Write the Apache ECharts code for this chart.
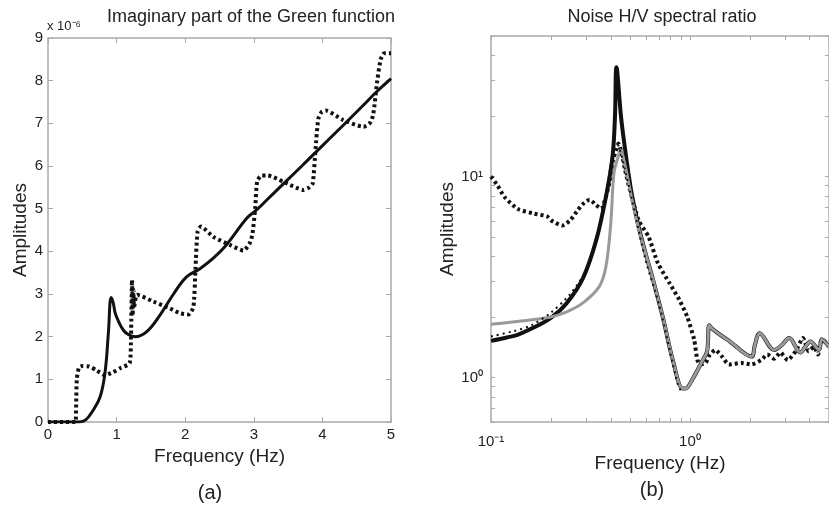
<!DOCTYPE html>
<html>
<head>
<meta charset="utf-8">
<script src="https://cdn.jsdelivr.net/npm/echarts@6/dist/echarts.min.js"></script>
<style>
  html, body { margin: 0; padding: 0; background: #fff; }
  #chart { width: 829px; height: 510px; }
</style>
</head>
<body>
<div id="chart"></div>
<script>
// (a) imaginary part of the Green function, units of 1e-6
const greenSolidFreq = [0, 0.45, 0.55, 0.66, 0.76, 0.83, 0.88, 0.92, 0.95, 0.98, 1.03, 1.1, 1.17, 1.27, 1.44, 1.63, 1.83, 2.02, 2.22, 2.41, 2.6, 2.9, 3.04, 3.2, 3.43, 3.7, 3.92, 4.3, 4.6, 4.79, 5.0];
const greenSolidAmp = [0, 0, 0.05, 0.28, 0.59, 1.14, 2.08, 2.92, 2.8, 2.55, 2.35, 2.15, 2.05, 2.0, 2.12, 2.5, 3.0, 3.4, 3.6, 3.84, 4.15, 4.78, 4.97, 5.22, 5.58, 6.0, 6.35, 6.95, 7.43, 7.74, 8.05];

const greenDotFreq = [0, 0.4, 0.41, 0.42, 0.45, 0.5, 0.6, 0.7, 0.83, 0.95, 1.05, 1.19, 1.21, 1.225, 1.235, 1.245, 1.255, 1.3, 1.54, 1.78, 1.92, 2.05, 2.12, 2.15, 2.18, 2.23, 2.41, 2.65, 2.85, 2.94, 2.98, 3.02, 3.05, 3.12, 3.2, 3.43, 3.72, 3.81, 3.86, 3.9, 3.94, 3.99, 4.05, 4.3, 4.6, 4.69, 4.74, 4.8, 4.85, 4.9, 5.0];
const greenDotAmp = [0, 0, 0.4, 1.0, 1.27, 1.31, 1.3, 1.22, 1.1, 1.17, 1.26, 1.38, 2.0, 3.33, 2.5, 3.1, 2.7, 2.98, 2.82, 2.66, 2.55, 2.52, 2.7, 3.6, 4.45, 4.58, 4.34, 4.15, 4.02, 4.19, 4.4, 5.0, 5.65, 5.78, 5.78, 5.63, 5.44, 5.5, 5.6, 6.4, 7.1, 7.27, 7.3, 7.08, 6.92, 7.0, 7.2, 8.0, 8.5, 8.64, 8.64];

// (b) noise H/V spectral ratio
const hvSolidFreq = [0.1, 0.12, 0.136, 0.16, 0.2, 0.24, 0.29, 0.338, 0.378, 0.408, 0.42, 0.427, 0.45, 0.466, 0.49, 0.512, 0.55, 0.6, 0.65, 0.73, 0.82, 0.92, 0.95, 1.03, 1.15, 1.22, 1.25, 1.3, 1.6, 2.04, 2.12, 2.24, 2.65, 2.9, 3.15, 3.59, 3.8, 4.03, 4.45, 4.6, 5.0];
const hvSolidAmp = [1.52, 1.58, 1.63, 1.75, 1.98, 2.34, 3.12, 4.82, 7.9, 12.5, 20, 35, 20, 15, 10.5, 8.0, 5.7, 4.1, 3.1, 2.0, 1.22, 0.88, 0.88, 0.98, 1.2, 1.35, 1.82, 1.74, 1.5, 1.27, 1.45, 1.66, 1.37, 1.45, 1.57, 1.33, 1.42, 1.51, 1.37, 1.55, 1.42];

const hvGrayFreq = [0.1, 0.136, 0.2, 0.24, 0.29, 0.35, 0.378, 0.4, 0.415, 0.435, 0.447, 0.475, 0.512, 0.55, 0.6, 0.65, 0.73, 0.82, 0.92, 0.95, 1.03, 1.15, 1.22, 1.25, 1.3, 1.6, 2.04, 2.12, 2.24, 2.65, 2.9, 3.15, 3.59, 3.8, 4.03, 4.45, 4.6, 5.0];
const hvGrayAmp = [1.84, 1.9, 2.0, 2.12, 2.35, 2.83, 3.55, 5.85, 10.4, 12.5, 13.5, 11, 7.6, 5.6, 4.1, 3.1, 2.0, 1.22, 0.88, 0.88, 0.98, 1.2, 1.35, 1.82, 1.74, 1.5, 1.27, 1.45, 1.66, 1.37, 1.45, 1.57, 1.33, 1.42, 1.51, 1.37, 1.55, 1.42];

const hvNoiseFreq = [0.1, 0.108, 0.117, 0.136, 0.165, 0.192, 0.2, 0.228, 0.25, 0.27, 0.29, 0.313, 0.338, 0.358, 0.378, 0.395, 0.41, 0.425, 0.437, 0.45, 0.47, 0.5, 0.552, 0.62, 0.69, 0.79, 0.885, 0.97, 1.05, 1.09, 1.13, 1.2, 1.24, 1.34, 1.45, 1.57, 1.82, 2.04, 2.28, 2.45, 2.65, 2.85, 3.1, 3.4, 3.7, 3.95, 4.2, 4.4, 4.6, 5.0];
const hvNoiseAmp = [10, 9, 7.9, 6.9, 6.53, 6.32, 6.05, 5.7, 6.05, 6.7, 7.3, 7.66, 7.2, 6.9, 7.9, 9.5, 12, 13.5, 14.6, 13.5, 11, 8.5, 6.05, 5.0, 3.7, 2.94, 2.43, 2.0, 1.54, 1.22, 1.16, 1.18, 1.27, 1.37, 1.27, 1.16, 1.18, 1.16, 1.22, 1.3, 1.24, 1.33, 1.22, 1.35, 1.57, 1.35, 1.42, 1.3, 1.54, 1.45];

const hvFineFreq = [0.1, 0.13, 0.16, 0.2, 0.25, 0.3, 0.35, 0.38, 0.4, 0.42, 0.44, 0.48, 0.53, 0.6, 0.7, 0.8, 0.87, 0.9];
const hvFineAmp = [1.6, 1.7, 1.82, 2.1, 2.6, 3.4, 5.4, 8.2, 11.5, 15, 14, 10, 6.5, 3.8, 2.3, 1.3, 0.92, 0.86];

// ticks
const greenTicksX = [0, 1, 2, 3, 4, 5];
const greenTicksY = [0, 1, 2, 3, 4, 5, 6, 7, 8, 9];
const hvTicksX = [0.1, 0.2, 0.3, 0.4, 0.5, 0.6, 0.7, 0.8, 0.9, 1, 2, 3, 4, 5];
const hvTicksY = [0.6, 0.7, 0.8, 0.9, 1, 2, 3, 4, 5, 6, 7, 8, 9, 10, 20, 30, 40, 50];
const hvLabelsX = [0.1, 1];
const hvLabelsY = [1, 10];

const pairs = (xs, ys) => xs.map((x, i) => [x, ys[i]]);
const supMap = {'-': '⁻', '0': '⁰', '1': '¹', '2': '²', '3': '³'};
const pow10Label = v => '10' + String(Math.round(Math.log10(v))).split('').map(c => supMap[c]).join('');

const axisGray = '#aaaaaa';
const labelColor = '#222';
const font = 'Liberation Sans';

function linAxis(pos, grid, min, max, ticks, show, extra) {
    return Object.assign({
        gridIndex: grid, type: 'value', position: pos, min: min, max: max, interval: 1,
        axisLine: {show: true, onZero: false, lineStyle: {color: axisGray, width: 1.5}},
        axisTick: {show: true, inside: true, length: 5, lineStyle: {color: axisGray}},
        axisLabel: {show: show, color: labelColor, fontSize: 15, fontFamily: font, margin: 5},
        splitLine: {show: false}
    }, extra || {});
}

function logAxis(pos, grid, min, max, ticks, labels, show, margin, extra) {
    return Object.assign({
        gridIndex: grid, type: 'log', position: pos, min: min, max: max, logBase: 10,
        axisLine: {show: true, onZero: false, lineStyle: {color: axisGray, width: 1.5}},
        axisTick: {show: true, inside: true, length: 4, customValues: ticks, lineStyle: {color: axisGray}},
        axisLabel: {show: show, color: labelColor, fontSize: 15, fontFamily: font, margin: margin,
            customValues: labels, formatter: pow10Label},
        splitLine: {show: false},
        minorTick: {show: false}
    }, extra || {});
}

const chart = echarts.init(document.getElementById('chart'));
chart.setOption({
    animation: false,
    backgroundColor: '#fff',
    textStyle: {fontFamily: font},
    title: [
        {text: 'Imaginary part of the Green function', left: 251, top: 8, textAlign: 'center', padding: 0,
            textStyle: {fontSize: 18, fontWeight: 'normal', color: '#222'}},
        {text: 'Noise H/V spectral ratio', left: 662, top: 8, textAlign: 'center', padding: 0,
            textStyle: {fontSize: 18, fontWeight: 'normal', color: '#222'}},
        {text: 'x 10⁻⁶', left: 47, top: 20, padding: 0,
            textStyle: {fontSize: 13, fontWeight: 'normal', color: '#222'}},
        {text: '(a)', left: 210, top: 483, textAlign: 'center', padding: 0,
            textStyle: {fontSize: 20, fontWeight: 'normal', color: '#222'}},
        {text: '(b)', left: 652, top: 480, textAlign: 'center', padding: 0,
            textStyle: {fontSize: 20, fontWeight: 'normal', color: '#222'}}
    ],
    grid: [
        {left: 48, top: 38, width: 343, height: 384},
        {left: 491, top: 36, width: 345, height: 386}
    ],
    xAxis: [
        linAxis('bottom', 0, 0, 5, greenTicksX, true, {
            name: 'Frequency (Hz)', nameLocation: 'middle', nameGap: 20,
            nameTextStyle: {fontSize: 19, color: labelColor}
        }),
        linAxis('top', 0, 0, 5, greenTicksX, false),
        logAxis('bottom', 1, 0.1, 5, hvTicksX, hvLabelsX, true, 12, {
            name: 'Frequency (Hz)', nameLocation: 'middle', nameGap: 23,
            nameTextStyle: {fontSize: 19, color: labelColor}
        }),
        logAxis('top', 1, 0.1, 5, hvTicksX, hvLabelsX, false, 8)
    ],
    yAxis: [
        linAxis('left', 0, 0, 9, greenTicksY, true, {
            name: 'Amplitudes', nameLocation: 'middle', nameGap: 17,
            nameTextStyle: {fontSize: 19, color: labelColor}
        }),
        linAxis('right', 0, 0, 9, greenTicksY, false),
        logAxis('left', 1, 0.6, 50, hvTicksY, hvLabelsY, true, 8, {
            name: 'Amplitudes', nameLocation: 'middle', nameGap: 27,
            nameTextStyle: {fontSize: 19, color: labelColor}
        }),
        logAxis('right', 1, 0.6, 50, hvTicksY, hvLabelsY, false, 8)
    ],
    series: [
        {type: 'line', xAxisIndex: 0, yAxisIndex: 0, showSymbol: false, smooth: 0.4,
            lineStyle: {color: '#111', width: 3}, data: pairs(greenSolidFreq, greenSolidAmp)},
        {type: 'line', xAxisIndex: 0, yAxisIndex: 0, showSymbol: false, smooth: 0.2,
            lineStyle: {color: '#111', width: 4, type: [3, 3]}, data: pairs(greenDotFreq, greenDotAmp)},

        {type: 'line', xAxisIndex: 2, yAxisIndex: 2, showSymbol: false, smooth: 0.2,
            lineStyle: {color: '#111', width: 4, type: [3, 3]}, data: pairs(hvNoiseFreq, hvNoiseAmp)},
        {type: 'line', xAxisIndex: 2, yAxisIndex: 2, showSymbol: false, smooth: 0.35,
            lineStyle: {color: '#111', width: 4}, data: pairs(hvSolidFreq, hvSolidAmp)},
        {type: 'line', xAxisIndex: 2, yAxisIndex: 2, showSymbol: false, smooth: 0.35,
            lineStyle: {color: '#999', width: 3}, data: pairs(hvGrayFreq, hvGrayAmp)},
        {type: 'line', xAxisIndex: 2, yAxisIndex: 2, showSymbol: false, smooth: 0.3,
            lineStyle: {color: '#111', width: 2, type: [2, 4]}, data: pairs(hvFineFreq, hvFineAmp)}
    ]
});
</script>
</body>
</html>
